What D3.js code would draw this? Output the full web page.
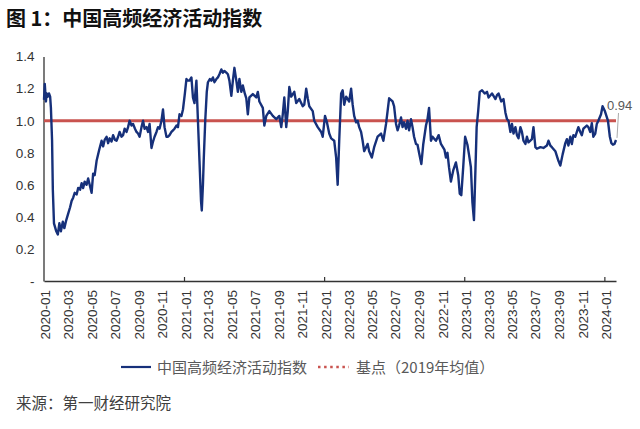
<!DOCTYPE html>
<html>
<head>
<meta charset="utf-8">
<script src="https://cdn.jsdelivr.net/npm/d3@7"></script>
<style>
  html, body { margin: 0; padding: 0; background: #fff; }
  svg { display: block; }
</style>
</head>
<body>
<div id="chart"></div>
<script>
/* 图 1：中国高频经济活动指数 — weekly index, 2019 average = 1 */

var title = '图 1：中国高频经济活动指数';
var source = '来源：第一财经研究院';
var seriesName = '中国高频经济活动指数';
var baseName = '基点（2019年均值）';
var baseValue = 1.0;
var yTicks = [0, 0.2, 0.4, 0.6, 0.8, 1.0, 1.2, 1.4];
var lastLabel = '0.94';

var series = [
  ['2020-01-01', 1.13], ['2020-01-03', 1.23], ['2020-01-06', 1.12], ['2020-01-08', 1.17],
  ['2020-01-11', 1.15], ['2020-01-14', 1.17], ['2020-01-17', 1.15], ['2020-01-19', 1.08],
  ['2020-01-22', 0.88], ['2020-01-24', 0.57], ['2020-01-27', 0.36], ['2020-02-02', 0.31],
  ['2020-02-06', 0.29], ['2020-02-10', 0.36], ['2020-02-14', 0.31], ['2020-02-19', 0.37],
  ['2020-02-23', 0.33], ['2020-02-28', 0.38], ['2020-03-04', 0.42], ['2020-03-09', 0.46],
  ['2020-03-13', 0.50], ['2020-03-17', 0.52], ['2020-03-21', 0.55], ['2020-03-26', 0.54],
  ['2020-03-30', 0.58], ['2020-04-04', 0.57], ['2020-04-08', 0.61], ['2020-04-12', 0.58],
  ['2020-04-16', 0.62], ['2020-04-21', 0.60], ['2020-04-25', 0.64], ['2020-04-29', 0.60],
  ['2020-05-04', 0.55], ['2020-05-08', 0.67], ['2020-05-12', 0.66], ['2020-05-17', 0.75],
  ['2020-05-24', 0.82], ['2020-05-30', 0.875], ['2020-06-03', 0.84], ['2020-06-07', 0.88],
  ['2020-06-12', 0.90], ['2020-06-16', 0.86], ['2020-06-20', 0.89], ['2020-06-25', 0.87],
  ['2020-06-29', 0.91], ['2020-07-04', 0.88], ['2020-07-08', 0.875], ['2020-07-12', 0.90],
  ['2020-07-16', 0.93], ['2020-07-21', 0.90], ['2020-07-25', 0.91], ['2020-07-29', 0.95],
  ['2020-08-03', 0.93], ['2020-08-07', 0.96], ['2020-08-11', 1.00], ['2020-08-16', 0.97],
  ['2020-08-20', 0.98], ['2020-08-25', 0.95], ['2020-08-29', 0.93], ['2020-09-02', 0.92],
  ['2020-09-06', 0.90], ['2020-09-11', 0.96], ['2020-09-15', 1.00], ['2020-09-19', 0.95],
  ['2020-09-24', 0.96], ['2020-09-28', 0.93], ['2020-10-02', 0.98], ['2020-10-07', 0.83],
  ['2020-10-11', 0.87], ['2020-10-15', 0.90], ['2020-10-20', 0.93], ['2020-10-24', 0.96],
  ['2020-10-28', 0.95], ['2020-11-02', 1.00], ['2020-11-06', 1.07], ['2020-11-10', 0.96],
  ['2020-11-15', 0.90], ['2020-11-19', 0.90], ['2020-11-23', 0.91], ['2020-11-28', 0.93],
  ['2020-12-02', 0.94], ['2020-12-06', 0.95], ['2020-12-11', 0.97], ['2020-12-15', 0.96],
  ['2020-12-19', 1.04], ['2020-12-24', 1.03], ['2020-12-28', 1.07], ['2021-01-02', 1.17],
  ['2021-01-06', 1.26], ['2021-01-10', 1.25], ['2021-01-14', 1.25], ['2021-01-19', 1.27],
  ['2021-01-23', 1.145], ['2021-01-27', 1.11], ['2021-02-01', 1.25], ['2021-02-05', 1.00],
  ['2021-02-09', 0.75], ['2021-02-13', 0.50], ['2021-02-15', 0.44], ['2021-02-18', 0.60],
  ['2021-02-20', 0.75], ['2021-02-24', 1.00], ['2021-02-28', 1.18], ['2021-03-03', 1.24],
  ['2021-03-08', 1.26], ['2021-03-12', 1.25], ['2021-03-16', 1.27], ['2021-03-20', 1.24],
  ['2021-03-25', 1.26], ['2021-03-29', 1.27], ['2021-04-02', 1.29], ['2021-04-07', 1.32],
  ['2021-04-11', 1.30], ['2021-04-15', 1.31], ['2021-04-20', 1.30], ['2021-04-24', 1.29],
  ['2021-04-28', 1.25], ['2021-05-03', 1.155], ['2021-05-07', 1.25], ['2021-05-11', 1.33],
  ['2021-05-16', 1.25], ['2021-05-20', 1.18], ['2021-05-24', 1.26], ['2021-05-29', 1.18],
  ['2021-06-02', 1.22], ['2021-06-07', 1.17], ['2021-06-11', 1.14], ['2021-06-15', 1.04],
  ['2021-06-19', 1.145], ['2021-06-28', 1.166], ['2021-07-07', 1.145], ['2021-07-11', 1.18],
  ['2021-07-15', 1.12], ['2021-07-24', 1.08], ['2021-07-28', 0.97], ['2021-08-02', 1.03],
  ['2021-08-10', 1.06], ['2021-08-19', 1.03], ['2021-08-28', 1.01], ['2021-09-05', 1.03],
  ['2021-09-10', 0.96], ['2021-09-14', 1.04], ['2021-09-18', 1.145], ['2021-09-23', 0.96],
  ['2021-09-27', 1.06], ['2021-10-01', 1.21], ['2021-10-06', 1.15], ['2021-10-14', 1.18],
  ['2021-10-19', 1.11], ['2021-10-27', 1.135], ['2021-11-05', 1.09], ['2021-11-09', 1.10],
  ['2021-11-14', 1.20], ['2021-11-18', 1.14], ['2021-11-22', 1.09], ['2021-12-01', 1.06],
  ['2021-12-05', 1.00], ['2021-12-14', 0.96], ['2021-12-23', 0.93], ['2021-12-27', 0.90],
  ['2022-01-02', 1.03], ['2022-01-07', 0.99], ['2022-01-13', 0.92], ['2022-01-18', 0.89],
  ['2022-01-26', 0.875], ['2022-01-31', 0.77], ['2022-02-04', 0.60], ['2022-02-08', 0.875],
  ['2022-02-13', 1.17], ['2022-02-17', 1.19], ['2022-02-21', 1.10], ['2022-02-26', 1.15],
  ['2022-03-06', 1.12], ['2022-03-11', 1.20], ['2022-03-15', 1.10], ['2022-03-19', 1.03],
  ['2022-03-24', 0.99], ['2022-03-28', 1.00], ['2022-04-01', 0.96], ['2022-04-06', 0.93],
  ['2022-04-10', 0.875], ['2022-04-14', 0.81], ['2022-04-19', 0.835], ['2022-04-23', 0.855],
  ['2022-04-27', 0.81], ['2022-05-04', 0.77], ['2022-05-10', 0.835], ['2022-05-19', 0.90],
  ['2022-05-28', 0.92], ['2022-06-03', 0.875], ['2022-06-10', 0.98], ['2022-06-14', 1.06],
  ['2022-06-18', 1.14], ['2022-06-27', 1.12], ['2022-07-01', 1.09], ['2022-07-06', 0.98],
  ['2022-07-10', 0.94], ['2022-07-14', 0.97], ['2022-07-19', 1.02], ['2022-07-23', 0.96],
  ['2022-07-27', 0.99], ['2022-08-01', 0.95], ['2022-08-05', 1.00], ['2022-08-09', 0.94],
  ['2022-08-14', 1.01], ['2022-08-18', 0.96], ['2022-08-22', 0.90], ['2022-08-27', 0.855],
  ['2022-08-31', 0.85], ['2022-09-04', 0.80], ['2022-09-10', 0.73], ['2022-09-15', 0.855],
  ['2022-09-22', 0.97], ['2022-09-26', 1.01], ['2022-09-30', 1.08], ['2022-10-05', 0.875],
  ['2022-10-09', 0.90], ['2022-10-18', 0.875], ['2022-10-25', 0.91], ['2022-10-31', 0.855],
  ['2022-11-09', 0.82], ['2022-11-13', 0.77], ['2022-11-17', 0.80], ['2022-11-21', 0.71],
  ['2022-11-26', 0.62], ['2022-12-02', 0.69], ['2022-12-09', 0.74], ['2022-12-15', 0.66],
  ['2022-12-19', 0.545], ['2022-12-23', 0.535], ['2022-12-28', 0.71], ['2023-01-02', 0.90],
  ['2023-01-08', 0.85], ['2023-01-12', 0.79], ['2023-01-17', 0.71], ['2023-01-21', 0.49],
  ['2023-01-25', 0.38], ['2023-01-30', 0.79], ['2023-02-01', 0.96], ['2023-02-05', 1.06],
  ['2023-02-09', 1.18], ['2023-02-15', 1.19], ['2023-02-22', 1.17], ['2023-02-28', 1.18],
  ['2023-03-04', 1.145], ['2023-03-13', 1.17], ['2023-03-22', 1.135], ['2023-03-26', 1.16],
  ['2023-03-30', 1.17], ['2023-04-06', 1.12], ['2023-04-12', 1.135], ['2023-04-17', 1.05],
  ['2023-04-21', 1.01], ['2023-04-25', 1.00], ['2023-04-30', 0.93], ['2023-05-04', 0.98],
  ['2023-05-08', 0.92], ['2023-05-13', 0.96], ['2023-05-17', 0.91], ['2023-05-21', 0.89],
  ['2023-05-26', 0.96], ['2023-05-30', 0.93], ['2023-06-03', 0.875], ['2023-06-08', 0.855],
  ['2023-06-12', 0.90], ['2023-06-16', 0.865], ['2023-06-25', 0.885], ['2023-06-29', 0.96],
  ['2023-07-04', 0.835], ['2023-07-08', 0.825], ['2023-07-17', 0.835], ['2023-07-25', 0.83],
  ['2023-08-03', 0.845], ['2023-08-07', 0.875], ['2023-08-12', 0.845], ['2023-08-16', 0.835],
  ['2023-08-25', 0.81], ['2023-09-02', 0.75], ['2023-09-07', 0.72], ['2023-09-13', 0.79],
  ['2023-09-20', 0.86], ['2023-09-24', 0.885], ['2023-09-28', 0.845], ['2023-10-03', 0.90],
  ['2023-10-07', 0.855], ['2023-10-11', 0.91], ['2023-10-16', 0.90], ['2023-10-20', 0.93],
  ['2023-10-24', 0.96], ['2023-10-29', 0.93], ['2023-11-02', 0.91], ['2023-11-06', 0.95],
  ['2023-11-15', 0.97], ['2023-11-19', 0.96], ['2023-11-24', 0.93], ['2023-11-28', 0.985],
  ['2023-12-02', 0.90], ['2023-12-07', 0.92], ['2023-12-11', 0.98], ['2023-12-15', 1.00],
  ['2023-12-22', 1.04], ['2023-12-26', 1.09], ['2024-01-01', 1.06], ['2024-01-05', 1.03],
  ['2024-01-09', 1.00], ['2024-01-14', 0.90], ['2024-01-18', 0.86], ['2024-01-22', 0.85],
  ['2024-01-26', 0.855], ['2024-01-30', 0.88]
];

var W = 640, H = 429;
var parse = d3.timeParse('%Y-%m-%d');
var data = series.map(function (d) { return { date: parse(d[0]), value: d[1] }; });

var svg = d3.select('#chart').append('svg')
  .attr('width', W).attr('height', H)
  .style('font-family', '"Liberation Sans", Arial, sans-serif');

var cjk = '"Noto Sans CJK SC", "Noto Sans", sans-serif';

/* scales */
var x = d3.scaleTime()
  .domain([parse('2020-01-01'), data[data.length - 1].date])
  .range([44, 616]);
var y = d3.scaleLinear().domain([0, 1.4]).range([281, 56.6]);

/* title */
svg.append('text')
  .attr('x', 6).attr('y', 26)
  .attr('font-family', cjk).attr('font-weight', 'bold')
  .attr('font-size', 20).attr('fill', '#111')
  .text(title);

/* y axis */
var yAxis = d3.axisLeft(y).tickValues(yTicks).tickSize(0).tickPadding(9)
  .tickFormat(function (d) { return d === 0 ? '-' : d.toFixed(1); });
var gy = svg.append('g').attr('transform', 'translate(43.5,0)').call(yAxis);
gy.select('.domain').attr('stroke', '#333').attr('stroke-width', 1.3);
gy.selectAll('text').attr('font-size', 13.5).attr('fill', '#333');

/* x axis: labels every two months */
var labelDates = d3.timeMonth.every(2).range(parse('2020-01-01'), parse('2024-02-01'));
var xAxis = d3.axisBottom(x).tickValues(labelDates).tickSize(0)
  .tickFormat(d3.timeFormat('%Y-%m'));
var gx = svg.append('g').attr('transform', 'translate(0,281)').call(xAxis);
gx.select('.domain').attr('stroke', '#333').attr('stroke-width', 1.3);
gx.selectAll('text')
  .attr('font-size', 13.5).attr('fill', '#333')
  .attr('text-anchor', 'end')
  .attr('transform', 'translate(1,9) rotate(-90)')
  .attr('x', 0).attr('y', 0).attr('dy', '0.35em');

/* year ticks, pointing inward */
var yearTicks = d3.timeYear.range(parse('2021-01-01'), parse('2024-02-01'));
svg.append('g').selectAll('line').data(yearTicks).enter().append('line')
  .attr('x1', function (d) { return x(d); }).attr('x2', function (d) { return x(d); })
  .attr('y1', 281).attr('y2', 277)
  .attr('stroke', '#333').attr('stroke-width', 1.2);

/* base line at 2019 average */
svg.append('line')
  .attr('x1', x.range()[0]).attr('x2', x.range()[1])
  .attr('y1', y(baseValue)).attr('y2', y(baseValue))
  .attr('stroke', '#c9534f').attr('stroke-width', 3);

/* index line */
var line = d3.line()
  .x(function (d) { return x(d.date); })
  .y(function (d) { return y(d.value); });
svg.append('path').datum(data)
  .attr('d', line)
  .attr('fill', 'none')
  .attr('stroke', '#16307a')
  .attr('stroke-width', 2.4)
  .attr('stroke-linejoin', 'round');

/* last value label with leader */
var last = data[data.length - 1];
svg.append('line')
  .attr('x1', x(last.date) + 1).attr('y1', y(last.value) - 2)
  .attr('x2', x(last.date) + 2.5).attr('y2', 113)
  .attr('stroke', '#aaa').attr('stroke-width', 1);
svg.append('text')
  .attr('x', 607).attr('y', 110)
  .attr('font-size', 13).attr('fill', '#595959')
  .text(lastLabel);

/* legend */
var ly = 367;
svg.append('line')
  .attr('x1', 121).attr('x2', 151).attr('y1', ly).attr('y2', ly)
  .attr('stroke', '#16307a').attr('stroke-width', 2.2);
svg.append('text')
  .attr('x', 157).attr('y', ly + 5.5)
  .attr('font-family', cjk).attr('font-size', 15).attr('fill', '#595959')
  .text(seriesName);
svg.append('line')
  .attr('x1', 318).attr('x2', 349).attr('y1', ly).attr('y2', ly)
  .attr('stroke', '#c9534f').attr('stroke-width', 2.5)
  .attr('stroke-dasharray', '2.5,3.6');
svg.append('text')
  .attr('x', 356).attr('y', ly + 5.5)
  .attr('font-family', cjk).attr('font-size', 15).attr('fill', '#595959')
  .text(baseName);

/* source */
svg.append('text')
  .attr('x', 16).attr('y', 409)
  .attr('font-family', cjk).attr('font-size', 15.5).attr('fill', '#404040')
  .text(source);
</script>
</body>
</html>
